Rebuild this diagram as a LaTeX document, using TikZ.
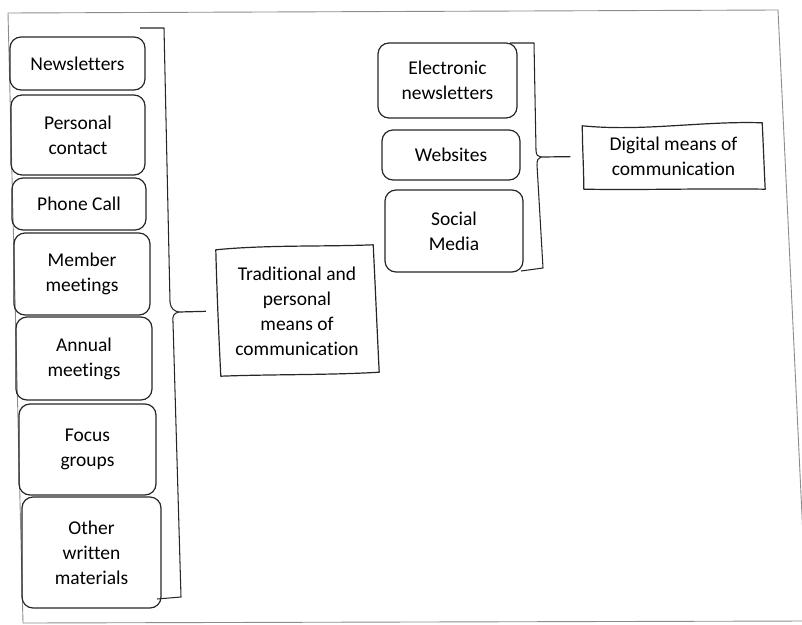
\documentclass[tikz,border=0pt]{standalone}
\usepackage{fontspec}
\setmainfont{Carlito}[Ligatures=NoCommon]
\usetikzlibrary{calc}
\definecolor{ink}{HTML}{262626}
\definecolor{framegray}{HTML}{8C8C8C}
\begin{document}
\begin{tikzpicture}[x=1pt,y=-1pt,
  txt/.style={font=\fontsize{19.5}{25}\selectfont, text=black, align=center, inner sep=0pt},
  item/.style={txt, draw=ink, line width=1.2pt, rounded corners=11pt},
  plain/.style={txt, draw=none},
  brace/.style={draw=ink, line width=1.05pt, line join=round},
  link/.style={draw=ink, line width=1.2pt, shorten >=12pt},
  wavy/.style={draw=ink, line width=1.2pt, line join=round},
  outer/.style={draw=framegray, line width=0.9pt}]
\useasboundingbox (0,0) rectangle (802,624);
% page frame
\begin{scope}
\clip (0,0) rectangle (802,624);
\draw[outer] (8,13) -- (778,10) -- (807,621) -- (23,623) -- cycle;
\end{scope}
% left group
\node[item, minimum width=135pt, minimum height=53pt] (news) at (77.5,63.5) {Newsletters};
\node[item, minimum width=134pt, minimum height=80pt] (pers) at (78,135) {Personal\\contact};
\node[item, minimum width=134pt, minimum height=52pt] (phone) at (79,204) {Phone Call};
\node[item, minimum width=136pt, minimum height=82pt] (member) at (82,274) {Member\\meetings};
\node[item, minimum width=136pt, minimum height=83pt] (annual) at (84,358.5) {Annual\\meetings};
\node[item, minimum width=137pt, minimum height=91pt] (focus) at (87.5,449.5) {Focus\\groups};
\node[item, minimum width=139pt, minimum height=111pt] (other) at (91.5,552.5) {Other\\written\\materials};
% traditional label
\node[plain, minimum width=158pt, minimum height=128pt] (trad) at (297,311) {Traditional and\\personal\\means of\\communication};
\draw[wavy] ($(trad.north west)+(-2,3)$) .. controls +(50,-5) and +(-50,2) .. ($(trad.north east)+(-3,-2)$)
  .. controls +(2,40) and +(-2,-40) .. ($(trad.south east)+(3,-3)$)
  .. controls +(-50,3) and +(50,-2) .. ($(trad.south west)+(3,1)$)
  .. controls +(-2,-40) and +(1,40) .. cycle;
% left brace
\coordinate (lt) at (179,312);
\draw[brace] (140,28) -- (164,28) -- (170,302) .. controls (171,309) and (174,311) .. (lt)
  .. controls (174,313) and (172,316) .. (173,322) -- (181,597) -- (157,599);
\draw[link] (lt) -- (trad.west);
% right group
\node[item, minimum width=139pt, minimum height=75pt] (elec) at (447.5,80.5) {Electronic\\newsletters};
\node[item, minimum width=138pt, minimum height=50pt] (web) at (451,155) {Websites};
\node[item, minimum width=138pt, minimum height=82pt] (social) at (454,231) {Social\\Media};
% digital label
\node[plain, minimum width=182pt, minimum height=64pt] (digi) at (673.5,156.5) {Digital means of\\communication};
\draw[wavy] ($(digi.north west)+(0,1.5)$) .. controls +(60,6) and +(-60,-2) .. ($(digi.north east)+(-2.5,-1.5)$)
  .. controls +(1,20) and +(-1,-20) .. ($(digi.south east)+(0.5,0.5)$)
  .. controls +(-60,-1) and +(60,1) .. ($(digi.south west)+(1.5,0.5)$)
  .. controls +(0,-20) and +(0,20) .. cycle;
% right brace
\coordinate (rt) at (541,157);
\draw[brace] (510,43) -- (534,43) -- (536,150) .. controls (536,155) and (538,157) .. (rt)
  .. controls (538,158) and (537,160) .. (537,165) -- (543,268) -- (521,271);
\draw[link] (rt) -- (digi.west);
\end{tikzpicture}
\end{document}
